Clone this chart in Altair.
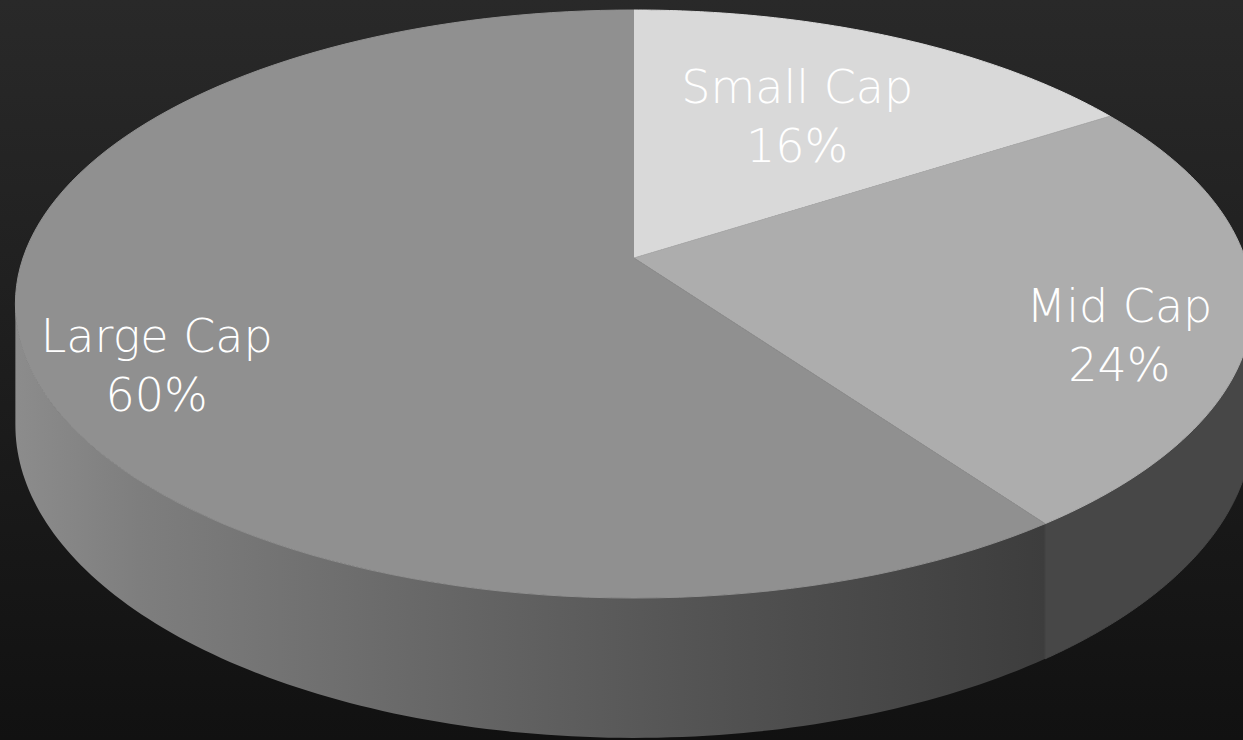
import altair as alt
import pandas as pd

# ---- data ----
categories = ["Small Cap", "Mid Cap", "Large Cap"]
values = [16, 24, 60]
top_colors = ["#d9d9d9", "#adadad", "#909090"]

# ---- layout constants (3D projection of the pie) ----
W, H = 1243, 740
CX, CY = 634.0, 258.0      # pixel position of pie centre
RX, RY = 611.0, 286.8      # projected radii
K = 0.1565                 # perspective factor
DEPTH = 118.0 / RY         # thickness in y-model units
N = 120
LINE_H = 59

xdom = [-CX / RX, (W - CX) / RX]
ydom = [(CY - H) / RY, CY / RY]

df = pd.DataFrame({"category": categories, "value": values, "ord": list(range(len(categories)))})

xs = alt.Scale(domain=xdom, nice=False, zero=False)
ys = alt.Scale(domain=ydom, nice=False, zero=False)

def prep(ch):
    return (ch.transform_window(cum="sum(value)", sort=[alt.SortField("ord")], frame=[None, 0])
              .transform_joinaggregate(total="sum(value)")
              .transform_calculate(a0="2*PI*(datum.cum - datum.value)/datum.total",
                                   a1="2*PI*datum.cum/datum.total"))

# background
bg = alt.Chart(pd.DataFrame({"k": [0]})).mark_rect(
    color=alt.Gradient(gradient="linear", x1=0, y1=0, x2=0, y2=1,
                       stops=[alt.GradientStop(color="#292929", offset=0),
                              alt.GradientStop(color="#1c1c1c", offset=0.55),
                              alt.GradientStop(color="#111111", offset=1)])
).encode(x=alt.value(0), x2=alt.value(W), y=alt.value(0), y2=alt.value(H))

# top faces
faces = prep(alt.Chart(df)).transform_calculate(
    steps=f"sequence(-1, {N + 1})"
).transform_flatten(["steps"], as_=["i"]).transform_calculate(
    t=f"datum.i < 0 ? 0 : datum.a0 + (datum.a1 - datum.a0) * datum.i / {N}",
    rr="datum.i < 0 ? 0 : 1"
).transform_calculate(
    u="datum.rr*sin(datum.t)", v="datum.rr*cos(datum.t)"
).transform_calculate(
    s=f"1/(1+{K}*datum.v)"
).transform_calculate(
    X="datum.u*datum.s", Y="datum.v*datum.s"
).mark_line(strokeWidth=1, interpolate="linear").encode(
    x=alt.X("X:Q", scale=xs, axis=None),
    y=alt.Y("Y:Q", scale=ys, axis=None),
    order=alt.Order("i:Q"),
    detail="category:N",
    fill=alt.Fill("category:N", scale=alt.Scale(domain=categories, range=top_colors), legend=None),
    stroke=alt.Stroke("category:N", scale=alt.Scale(domain=categories, range=top_colors), legend=None),
)

# visible side walls as closed polygons (top edge forward, bottom edge back)
TR = "acos(-%f)" % K
TL = "2*PI - acos(-%f)" % K
sides_base = prep(alt.Chart(df)).transform_calculate(
    lo=f"max(datum.a0, {TR})", hi=f"min(datum.a1, {TL})"
).transform_filter("datum.lo < datum.hi").transform_calculate(
    steps=f"sequence(0, {2 * N + 2})"
).transform_flatten(["steps"], as_=["i"]).transform_calculate(
    j=f"datum.i <= {N} ? datum.i : {2 * N + 1} - datum.i",
    bot=f"datum.i <= {N} ? 0 : 1"
).transform_calculate(
    t=f"datum.lo + (datum.hi - datum.lo) * datum.j / {N}"
).transform_calculate(
    u="sin(datum.t)", v="cos(datum.t)"
).transform_calculate(
    s=f"1/(1+{K}*datum.v)"
).transform_calculate(
    X="datum.u*datum.s", Y=f"datum.v*datum.s - datum.bot*{DEPTH}*datum.s"
)

side_enc = dict(
    x=alt.X("X:Q", scale=xs, axis=None),
    y=alt.Y("Y:Q", scale=ys, axis=None),
    order=alt.Order("i:Q"),
)

large_grad = alt.Gradient(gradient="linear", x1=0, y1=0, x2=1, y2=0,
                          stops=[alt.GradientStop(color="#8c8c8c", offset=0),
                                 alt.GradientStop(color="#7e7e7e", offset=0.12),
                                 alt.GradientStop(color="#6a6a6a", offset=0.37),
                                 alt.GradientStop(color="#515151", offset=0.7),
                                 alt.GradientStop(color="#3d3d3d", offset=1)])

large_side = sides_base.transform_filter(alt.datum.category == "Large Cap").mark_line(
    fill=large_grad, strokeWidth=0, interpolate="linear"
).encode(**side_enc)

mid_side = sides_base.transform_filter(alt.datum.category == "Mid Cap").mark_line(
    fill="#474747", stroke="#474747", strokeWidth=1, interpolate="linear"
).encode(**side_enc)

# labels
labels = prep(alt.Chart(df)).transform_calculate(
    mid="(datum.a0 + datum.a1)/2",
    rl="datum.value < 20 ? 0.6 : 0.79",
    label="[datum.category, format(datum.value/datum.total, '.0%')]"
).transform_calculate(
    u="datum.rl*sin(datum.mid)", v="datum.rl*cos(datum.mid)"
).transform_calculate(
    s=f"1/(1+{K}*datum.v)"
).transform_calculate(
    X="datum.u*datum.s",
    Y=f"datum.v*datum.s - (datum.value < 20 ? 0 : 0.3*{DEPTH}*datum.s)"
).mark_text(
    font="DejaVu Sans", fontWeight=200, fontSize=46, color="#ffffff",
    align="center", baseline="middle", lineHeight=LINE_H, dy=-LINE_H / 2
).encode(
    x=alt.X("X:Q", scale=xs, axis=None),
    y=alt.Y("Y:Q", scale=ys, axis=None),
    text=alt.Text("label:N"),
)

chart = alt.layer(bg, large_side, mid_side, faces, labels).properties(
    width=W, height=H, padding=0, autosize=alt.AutoSizeParams(type="none"),
    background="#1a1a1a"
).configure_view(stroke=None)

chart.save("out.html", embed_options={"renderer": "svg", "actions": False})
